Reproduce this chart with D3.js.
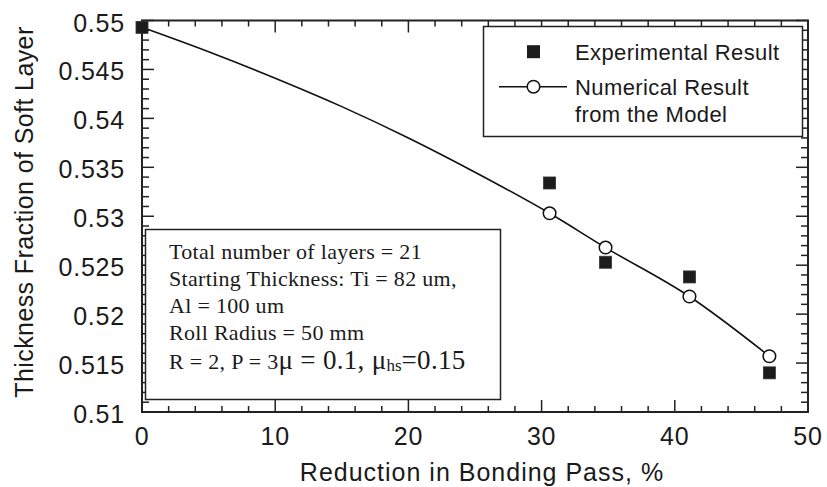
<!DOCTYPE html>
<html><head><meta charset="utf-8">
<script src="https://cdn.jsdelivr.net/npm/d3@7"></script>
<style>body{margin:0;background:#fff}</style>
</head><body>
<svg id="c" width="827" height="487"></svg>
<script>
const expX = [0, 30.6, 34.8, 41.1, 47.1];
const expY = [0.5493, 0.5334, 0.5253, 0.5238, 0.5140];
const modelX = [0, 5, 10, 15, 20, 25, 30.6, 34.8, 41.1, 47.1];
const modelY = [0.5493, 0.5468, 0.5441, 0.5412, 0.5380, 0.5345, 0.5303, 0.5268, 0.5218, 0.5157];
const modelMarkX = [30.6, 34.8, 41.1, 47.1];
const modelMarkY = [0.5303, 0.5268, 0.5218, 0.5157];
const xTicks = [0, 10, 20, 30, 40, 50];
const yTicks = [0.51, 0.515, 0.52, 0.525, 0.53, 0.535, 0.54, 0.545, 0.55];
const yTickLabels = ["0.51", "0.515", "0.52", "0.525", "0.53", "0.535", "0.54", "0.545", "0.55"];
const legendLabels = ["Experimental Result", "Numerical Result", "from the Model"];
const noteLines = ["Total number of layers = 21", "Starting Thickness: Ti = 82 um,", "Al = 100 um", "Roll Radius = 50 mm"];

const svg = d3.select("#c");
const L = 142, R = 808, T = 20.5, B = 412;
const x = d3.scaleLinear().domain([0, 50]).range([L, R]);
const y = d3.scaleLinear().domain([0.51, 0.55]).range([B, T]);
const sans = "'Liberation Sans', Arial, Helvetica, sans-serif";
const serif = "'Liberation Serif', 'Times New Roman', serif";

// minor / major ticks (inward, all four sides)
const xMinor = d3.range(0, 50.001, 2);
const yMinor = d3.range(0, 41).map(i => 0.51 + i * 0.001);
const g = svg.append("g").attr("stroke", "#222").attr("stroke-width", 1.5);
xMinor.forEach(v => {
  const maj = Math.abs(v / 10 - Math.round(v / 10)) < 1e-6;
  const len = maj ? 12 : 6;
  g.append("line").attr("x1", x(v)).attr("x2", x(v)).attr("y1", B).attr("y2", B - len);
  g.append("line").attr("x1", x(v)).attr("x2", x(v)).attr("y1", T).attr("y2", T + len);
});
yMinor.forEach((v, i) => {
  const maj = i % 5 === 0;
  const len = maj ? 12 : 7;
  g.append("line").attr("y1", y(v)).attr("y2", y(v)).attr("x1", L).attr("x2", L + len);
  g.append("line").attr("y1", y(v)).attr("y2", y(v)).attr("x1", R).attr("x2", R - len);
});
svg.append("rect").attr("x", L).attr("y", T).attr("width", R - L).attr("height", B - T)
  .attr("fill", "none").attr("stroke", "#222").attr("stroke-width", 2);

// tick labels
svg.append("g").selectAll("text").data(xTicks).join("text")
  .attr("x", d => x(d)).attr("y", 445).attr("text-anchor", "middle").attr("letter-spacing", 0.8)
  .attr("font-family", sans).attr("font-size", 25).attr("fill", "#1a1a1a").text(d => d);
svg.append("g").selectAll("text").data(yTicks).join("text")
  .attr("x", 125).attr("y", d => y(d) + 11).attr("text-anchor", "end").attr("letter-spacing", 0.8)
  .attr("font-family", sans).attr("font-size", 25).attr("fill", "#1a1a1a").text((d, i) => yTickLabels[i]);

// axis titles
svg.append("text").attr("x", 482).attr("y", 481).attr("text-anchor", "middle").attr("letter-spacing", 1)
  .attr("font-family", sans).attr("font-size", 25).attr("fill", "#1a1a1a").text("Reduction in Bonding Pass, %");
svg.append("text").attr("transform", "translate(33,212) rotate(-90)").attr("text-anchor", "middle").attr("letter-spacing", 0.4)
  .attr("font-family", sans).attr("font-size", 25).attr("fill", "#1a1a1a").text("Thickness Fraction of Soft Layer");

// model line
const line = d3.line().x((d, i) => x(modelX[i])).y((d, i) => y(modelY[i])).curve(d3.curveMonotoneX);
svg.append("path").datum(modelX).attr("d", line).attr("fill", "none").attr("stroke", "#111").attr("stroke-width", 1.6);
svg.append("g").selectAll("circle").data(modelMarkX).join("circle")
  .attr("cx", d => x(d)).attr("cy", (d, i) => y(modelMarkY[i])).attr("r", 6.3)
  .attr("fill", "#fff").attr("stroke", "#111").attr("stroke-width", 1.5);

// experimental squares
const S = 12;
svg.append("g").selectAll("rect").data(expX).join("rect")
  .attr("x", d => x(d) - S / 2).attr("y", (d, i) => y(expY[i]) - S / 2)
  .attr("width", S).attr("height", S).attr("fill", "#1c1c1c").attr("stroke", "#333").attr("stroke-width", 0.8);

// legend
svg.append("rect").attr("x", 483.5).attr("y", 26.5).attr("width", 319).attr("height", 110)
  .attr("fill", "#fff").attr("stroke", "#222").attr("stroke-width", 1.5);
svg.append("rect").attr("x", 533.5 - 6.5).attr("y", 51.7 - 6.5).attr("width", 13).attr("height", 13).attr("fill", "#1c1c1c");
svg.append("line").attr("x1", 499).attr("x2", 567).attr("y1", 86.7).attr("y2", 86.7).attr("stroke", "#111").attr("stroke-width", 1.5);
svg.append("circle").attr("cx", 533.5).attr("cy", 86.7).attr("r", 6.3).attr("fill", "#fff").attr("stroke", "#111").attr("stroke-width", 1.5);
const legY = [60, 95, 121.5];
svg.append("g").selectAll("text").data(legendLabels).join("text")
  .attr("x", 575).attr("y", (d, i) => legY[i]).attr("font-family", sans).attr("font-size", 22).attr("letter-spacing", 0.4)
  .attr("fill", "#1a1a1a").text(d => d);

// note box
svg.append("rect").attr("x", 145.5).attr("y", 229.5).attr("width", 355).attr("height", 170)
  .attr("fill", "#fff").attr("stroke", "#222").attr("stroke-width", 1.5);
const noteY = [259, 286, 313, 340];
svg.append("g").selectAll("text").data(noteLines).join("text")
  .attr("x", 169).attr("y", (d, i) => noteY[i]).attr("font-family", serif).attr("font-size", 22).attr("letter-spacing", 0.3)
  .attr("fill", "#1a1a1a").text(d => d);
const t5 = svg.append("text").attr("x", 169).attr("y", 369).attr("font-family", serif).attr("fill", "#1a1a1a");
t5.append("tspan").attr("font-size", 22).attr("letter-spacing", 0.3).text("R = 2, P = 3");
t5.append("tspan").attr("font-size", 27).attr("letter-spacing", 0.3).text("\u03BC = 0.1, \u03BC");
t5.append("tspan").attr("font-size", 17).attr("dy", 2).text("hs");
t5.append("tspan").attr("font-size", 27).attr("dy", -2).attr("letter-spacing", 0.3).text("=0.15");
</script>
</body></html>
